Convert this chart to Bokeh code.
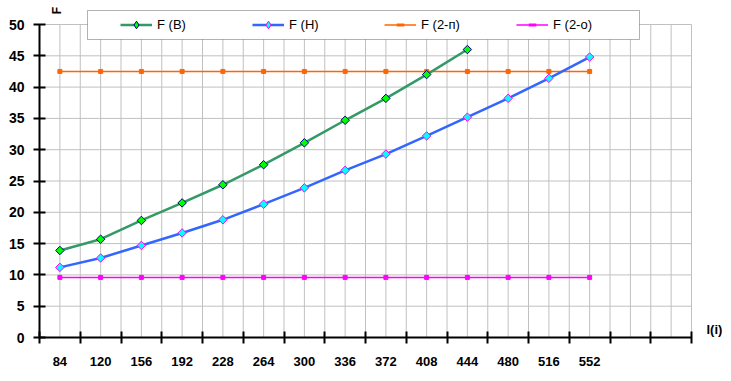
import numpy as np
from bokeh.plotting import figure
from bokeh.models import (Legend, LegendItem, FixedTicker, Label, Range1d,
                          BoxAnnotation)
from bokeh.embed import file_html
from bokeh.resources import INLINE

# ---- data -------------------------------------------------------------
categories = ["84", "120", "156", "192", "228", "264", "300", "336",
              "372", "408", "444", "480", "516", "552"]
F_B = [13.9, 15.7, 18.7, 21.5, 24.4, 27.6, 31.1, 34.7, 38.2, 42.0, 46.0]
F_H = [11.2, 12.7, 14.7, 16.7, 18.8, 21.3, 23.9, 26.7, 29.3, 32.2, 35.2,
       38.2, 41.4, 44.8]
F_2p = [42.5, 42.5, 42.5, 42.5, 42.5, 42.5, 42.5, 42.5, 42.5, 42.5, 42.5,
        42.5, 42.5, 42.5]
F_2o = [9.6, 9.6, 9.6, 9.6, 9.6, 9.6, 9.6, 9.6, 9.6, 9.6, 9.6, 9.6, 9.6, 9.6]
y_ticks = [0, 5, 10, 15, 20, 25, 30, 35, 40, 45, 50]
extra_slots = 2  # empty category slots at the right end of the axis

FONT = "Liberation Sans"
n_slots = len(categories) + extra_slots

# plot area (axes) is 652 x 313 px; the frame is larger so that the legend
# and axis titles (which sit outside the axes) are not clipped
AX_W, AX_H = 652, 313
FR_W, FR_H = 686, 332
x_lo = -0.5
x_hi = x_lo + n_slots * FR_W / AX_W
y_lo = y_ticks[0]
y_hi = y_ticks[-1] * FR_H / AX_H

p = figure(output_backend="svg", toolbar_location=None,
           frame_width=FR_W, frame_height=FR_H,
           min_border_left=39, min_border_right=3,
           min_border_top=5, min_border_bottom=41,
           x_range=Range1d(x_lo, x_hi), y_range=Range1d(y_lo, y_hi))
p.outline_line_color = None
p.background_fill_color = "white"
p.border_fill_color = "white"
p.grid.visible = False

# ---- grid lines (limited to the axes area) -------------------------------
gx = list(np.arange(-0.5, n_slots, 0.5))
p.segment(x0=gx, y0=[y_ticks[0]] * len(gx), x1=gx, y1=[y_ticks[-1]] * len(gx),
          line_color="#C0C0C0", line_width=1)
gy = y_ticks[1:]
p.segment(x0=[-0.5] * len(gy), y0=gy, x1=[n_slots - 0.5] * len(gy), y1=gy,
          line_color="#C0C0C0", line_width=1)

# ---- axes ---------------------------------------------------------------
xa = p.xaxis[0]
xa.bounds = (-0.5, n_slots - 0.5)
xa.ticker = FixedTicker(ticks=list(range(len(categories))),
                        minor_ticks=list(np.arange(-0.5, n_slots, 1.0)))
xa.major_label_overrides = {i: c for i, c in enumerate(categories)}
xa.major_tick_in = 0
xa.major_tick_out = 6
xa.major_tick_line_color = None
xa.minor_tick_in = 6
xa.minor_tick_out = 6
xa.minor_tick_line_width = 2
xa.minor_tick_line_color = "black"
xa.axis_line_width = 2
xa.axis_line_color = "black"
xa.major_label_standoff = 13
xa.major_label_text_font = FONT
xa.major_label_text_font_style = "bold"
xa.major_label_text_font_size = "13px"
xa.major_label_text_color = "black"

ya = p.yaxis[0]
ya.bounds = (y_ticks[0], y_ticks[-1])
ya.ticker = FixedTicker(ticks=y_ticks)
ya.minor_tick_line_color = None
ya.major_tick_in = 6
ya.major_tick_out = 6
ya.major_tick_line_width = 2
ya.major_tick_line_color = "black"
ya.axis_line_width = 2
ya.axis_line_color = "black"
ya.major_label_standoff = 9
ya.major_label_text_font = FONT
ya.major_label_text_font_style = "bold"
ya.major_label_text_font_size = "14px"
ya.major_label_text_color = "black"

# ---- series -------------------------------------------------------------
xB = list(range(len(F_B)))
xH = list(range(len(F_H)))
x2p = list(range(len(F_2p)))
x2o = list(range(len(F_2o)))

r2p_l = p.line(x2p, F_2p, line_color="#FF6600", line_width=1.5)
r2p_m = p.scatter(x2p, F_2p, marker="square", size=4,
                  fill_color="#FF6600", line_color="#FF6600")
r2o_l = p.line(x2o, F_2o, line_color="#FF00FF", line_width=1.5)
r2o_m = p.scatter(x2o, F_2o, marker="square", size=4,
                  fill_color="#FF00FF", line_color="#FF00FF")

rH_l = p.line(xH, F_H, line_color="#3366FF", line_width=2.5)
rH_m = p.scatter(xH, F_H, marker="square", angle=np.pi / 4, size=6,
                 fill_color="#00FFFF", line_color="#FF00FF", line_width=1)
rB_l = p.line(xB, F_B, line_color="#339966", line_width=2.5)
rB_m = p.scatter(xB, F_B, marker="square", angle=np.pi / 4, size=6,
                 fill_color="#00FF00", line_color="#000080", line_width=1)

# legend-only diamond glyphs (a single NaN point, never drawn in the plot)
nan = [float("nan")]
lgB = p.scatter(nan, nan, marker="diamond", fill_color="#00FF00",
                line_color="#000080", line_width=1)
lgH = p.scatter(nan, nan, marker="diamond", fill_color="#00FFFF",
                line_color="#FF00FF", line_width=1)
lg2p = p.scatter(nan, nan, marker="dash", line_color="#FF6600", line_width=3)
lg2o = p.scatter(nan, nan, marker="dash", line_color="#FF00FF", line_width=3)

# ---- legend box + legend -------------------------------------------------
box = BoxAnnotation(left=87, right=639, top=10, bottom=39,
                    left_units="canvas", right_units="canvas",
                    top_units="canvas", bottom_units="canvas",
                    fill_color="white", fill_alpha=1.0,
                    line_color="black", line_width=1)
p.add_layout(box)

legend = Legend(items=[
    LegendItem(label="F (В)", renderers=[rB_l, lgB]),
    LegendItem(label="F (Н)", renderers=[rH_l, lgH]),
    LegendItem(label="F (2-п)", renderers=[r2p_l, lg2p]),
    LegendItem(label="F (2-о)", renderers=[r2o_l, lg2o]),
], orientation="horizontal", location=(76, 298), margin=0, padding=5,
    glyph_width=32, glyph_height=19, label_height=19, label_width=62,
    label_standoff=5, spacing=33,
    label_text_font=FONT, label_text_font_size="13px",
    label_text_color="black",
    border_line_alpha=0, background_fill_alpha=0)
p.add_layout(legend)

# ---- axis titles ---------------------------------------------------------
p.add_layout(Label(x=17, y=327, x_units="screen", y_units="screen",
                   text="F", angle=np.pi / 2, text_align="center",
                   text_baseline="middle", text_font=FONT,
                   text_font_style="bold", text_font_size="12px",
                   text_color="black"))
p.add_layout(Label(x=667, y=8, x_units="screen", y_units="screen",
                   text="l(i)", text_align="left", text_baseline="middle",
                   text_font=FONT, text_font_style="bold",
                   text_font_size="13px", text_color="black"))

open("out.html", "w").write(file_html(p, INLINE))
